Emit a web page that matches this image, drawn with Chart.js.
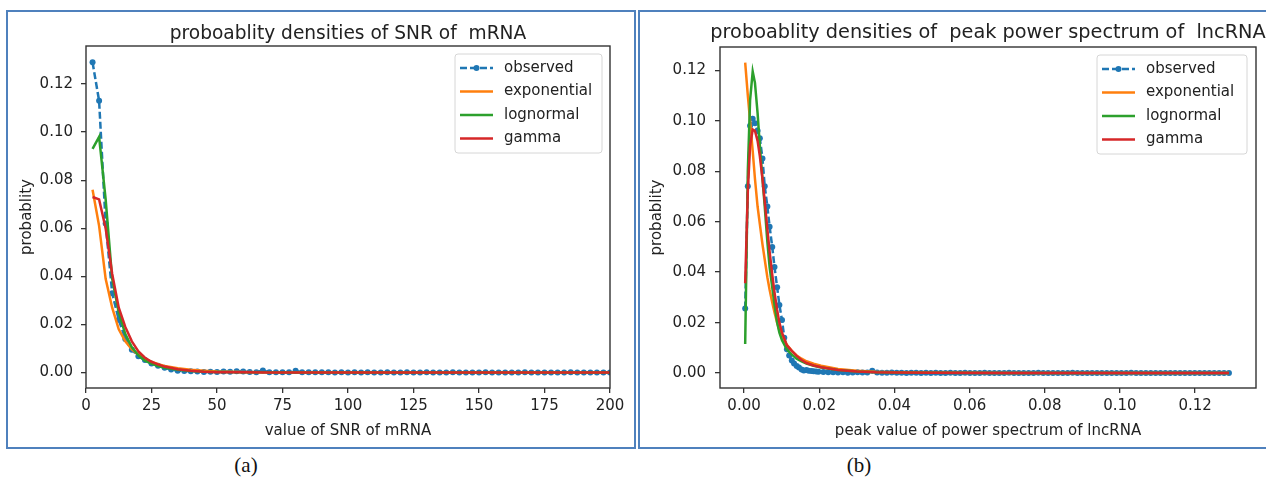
<!DOCTYPE html>
<html>
<head>
<meta charset="utf-8">
<script src="https://cdn.jsdelivr.net/npm/chart.js@4.4.0/dist/chart.umd.min.js"></script>
<style>
  body { margin: 0; width: 1266px; height: 481px; overflow: hidden; background: #fff; position: relative; }
  .box { position: absolute; border: 2px solid #4f81bd; box-sizing: border-box; }
  #boxA { left: 6px; top: 10px; width: 630px; height: 439px; }
  #boxB { left: 638px; top: 10px; width: 640px; height: 439px; }
  canvas { position: absolute; top: 12px; }
  #chartA { left: 8px; }
  #chartB { left: 640px; }
  .cap { position: absolute; top: 452px; width: 80px; text-align: center; font: 21px "Liberation Serif", serif; color: #111; line-height: 26px; }
</style>
</head>
<body>
<div class="box" id="boxA"></div>
<div class="box" id="boxB"></div>
<canvas id="chartA" width="626" height="435"></canvas>
<canvas id="chartB" width="626" height="435"></canvas>
<div class="cap" style="left:206px">(a)</div>
<div class="cap" style="left:819px">(b)</div>
<script>
// ---- (a) SNR of mRNA ----
const snrX = [2.5, 5, 7.5, 10, 12.5, 15, 17.5, 20, 22.5, 25,
  27.5, 30, 32.5, 35, 37.5, 40, 42.5, 45, 47.5, 50,
  52.5, 55, 57.5, 60, 62.5, 65, 67.5, 70, 72.5, 75,
  77.5, 80, 82.5, 85, 87.5, 90, 92.5, 95, 97.5, 100,
  102.5, 105, 107.5, 110, 112.5, 115, 117.5, 120, 122.5, 125,
  127.5, 130, 132.5, 135, 137.5, 140, 142.5, 145, 147.5, 150,
  152.5, 155, 157.5, 160, 162.5, 165, 167.5, 170, 172.5, 175,
  177.5, 180, 182.5, 185, 187.5, 190, 192.5, 195, 197.5, 200];
const snrObserved = [0.129, 0.113, 0.062, 0.033, 0.022, 0.014, 0.0095, 0.0068, 0.0052, 0.0038,
  0.0028, 0.0020, 0.0013, 0.0008, 0.0007, 0.0006, 0.0005, 0.0003, 0.0004, 0.0003,
  0.0005, 0.0004, 0.0006, 0.0005, 0.0003, 0.0002, 0.0009, 0.0002, 0.0001, 0.0002,
  0.0001, 0.0008, 0.0001, 0.0002, 0.0001, 0.0001, 0.0001, 0.0000, 0.0001, 0.0000,
  0.0001, 0.0000, 0.0001, 0.0000, 0.0000, 0.0001, 0.0000, 0.0000, 0.0001, 0.0000,
  0.0000, 0.0001, 0.0000, 0.0000, 0.0000, 0.0001, 0.0000, 0.0000, 0.0000, 0.0000,
  0.0001, 0.0000, 0.0000, 0.0000, 0.0000, 0.0000, 0.0001, 0.0000, 0.0000, 0.0000,
  0.0000, 0.0000, 0.0000, 0.0001, 0.0000, 0.0000, 0.0000, 0.0000, 0.0000, 0.0000];
const snrFitX = [2.5, 5, 7.5, 10, 12.5, 15, 17.5, 20, 22.5, 25, 27.5, 30,
  35, 40, 45, 50, 60, 70, 80, 100, 125, 150, 175, 200];
const snrExponential = [0.076, 0.061, 0.039, 0.027, 0.018, 0.013, 0.0097, 0.0074, 0.0058, 0.0045, 0.0035, 0.0028,
  0.0018, 0.0012, 0.0008, 0.0005, 0.0003, 0.0002, 0.0001, 0.0001, 0, 0, 0, 0];
const snrLognormal = [0.093, 0.098, 0.072, 0.039, 0.025, 0.016, 0.0105, 0.0072, 0.0050, 0.0037, 0.0027, 0.0020,
  0.0012, 0.0007, 0.0004, 0.0003, 0.0001, 0.0001, 0, 0, 0, 0, 0, 0];
const snrGamma = [0.073, 0.072, 0.060, 0.041, 0.027, 0.019, 0.013, 0.0088, 0.0062, 0.0045, 0.0034, 0.0025,
  0.0014, 0.0008, 0.0004, 0.0002, 0.0001, 0, 0, 0, 0, 0, 0, 0];
const snrTicks = [0, 25, 50, 75, 100, 125, 150, 175, 200];
const probTicks = [0, 0.02, 0.04, 0.06, 0.08, 0.10, 0.12];

// ---- (b) peak power spectrum of lncRNA ----
const peakX = [0.0003, 0.0010, 0.0016, 0.0023, 0.0029, 0.0036, 0.0042, 0.0049, 0.0055, 0.0062,
  0.0068, 0.0075, 0.0081, 0.0088, 0.0094, 0.0101, 0.0107, 0.0114, 0.0120, 0.0127,
  0.0133, 0.0140, 0.0146, 0.0153, 0.0159, 0.0166, 0.0172, 0.0179, 0.0185, 0.0192,
  0.0198, 0.0211, 0.0224, 0.0237, 0.0250, 0.0263, 0.0276, 0.0289, 0.0302, 0.0315,
  0.0328, 0.0341, 0.0354, 0.0367, 0.0380, 0.0393, 0.0406, 0.0419, 0.0432, 0.0445,
  0.0458, 0.0471, 0.0484, 0.0497, 0.0510, 0.0523, 0.0536, 0.0549, 0.0562, 0.0575,
  0.0588, 0.0601, 0.0614, 0.0627, 0.0640, 0.0653, 0.0666, 0.0679, 0.0692, 0.0705,
  0.0718, 0.0731, 0.0744, 0.0757, 0.0770, 0.0783, 0.0796, 0.0809, 0.0822, 0.0835,
  0.0848, 0.0861, 0.0874, 0.0887, 0.0900, 0.0913, 0.0926, 0.0939, 0.0952, 0.0965,
  0.0978, 0.0991, 0.1004, 0.1017, 0.1030, 0.1043, 0.1056, 0.1069, 0.1082, 0.1095,
  0.1108, 0.1121, 0.1134, 0.1147, 0.1160, 0.1173, 0.1186, 0.1199, 0.1212, 0.1225,
  0.1238, 0.1251, 0.1264, 0.1277, 0.1290];
const peakObserved = [0.0256, 0.074, 0.098, 0.1008, 0.099, 0.096, 0.093, 0.085, 0.074, 0.066,
  0.058, 0.050, 0.042, 0.034, 0.027, 0.021, 0.014, 0.0095, 0.0070, 0.0050,
  0.0038, 0.0028, 0.0022, 0.0014, 0.0010, 0.0012, 0.0009, 0.0008, 0.0007, 0.0006,
  0.0005, 0.0004, 0.0003, 0.0003, 0.0002, 0.0003, 0.0001, 0.0002, 0.0003, 0.0002,
  0.0002, 0.0009, 0.0002, 0.0001, 0.0001, 0.0002, 0.0001, 0.0001, 0.0000, 0.0001,
  0.0001, 0.0000, 0.0001, 0.0000, 0.0001, 0.0000, 0.0000, 0.0001, 0.0000, 0.0000,
  0.0001, 0.0000, 0.0000, 0.0000, 0.0001, 0.0000, 0.0000, 0.0000, 0.0000, 0.0001,
  0.0000, 0.0000, 0.0000, 0.0000, 0.0000, 0.0001, 0.0000, 0.0000, 0.0000, 0.0000,
  0.0000, 0.0000, 0.0001, 0.0000, 0.0000, 0.0000, 0.0000, 0.0000, 0.0000, 0.0000,
  0.0000, 0.0000, 0.0000, 0.0000, 0.0001, 0.0000, 0.0000, 0.0000, 0.0000, 0.0000,
  0.0000, 0.0000, 0.0000, 0.0000, 0.0000, 0.0000, 0.0000, 0.0000, 0.0000, 0.0000,
  0.0000, 0.0000, 0.0000, 0.0000, 0.0000];
const peakFitX = [0.0003, 0.0010, 0.0016, 0.0023, 0.0029, 0.0036, 0.0042, 0.0049, 0.0055, 0.0062,
  0.0068, 0.0075, 0.0081, 0.0088, 0.0094, 0.0101, 0.0114, 0.0127, 0.0140, 0.0153,
  0.0166, 0.0185, 0.0205, 0.0250, 0.0300, 0.0350, 0.0400, 0.0500, 0.0700, 0.0900,
  0.1100, 0.1290];
const peakExponential = [0.123, 0.110, 0.100, 0.088, 0.077, 0.066, 0.059, 0.051, 0.045, 0.038,
  0.033, 0.028, 0.024, 0.020, 0.017, 0.0148, 0.0112, 0.0088, 0.0070, 0.0057,
  0.0047, 0.0037, 0.0029, 0.0016, 0.0009, 0.0005, 0.0003, 0.0001, 0, 0,
  0, 0];
const peakLognormal = [0.0115, 0.080, 0.108, 0.1195, 0.115, 0.103, 0.090, 0.077, 0.066, 0.052,
  0.042, 0.034, 0.027, 0.020, 0.016, 0.0130, 0.0093, 0.0073, 0.0057, 0.0046,
  0.0038, 0.0029, 0.0022, 0.0012, 0.0006, 0.0003, 0.0002, 0.0001, 0, 0,
  0, 0];
const peakGamma = [0.0356, 0.072, 0.090, 0.0965, 0.096, 0.092, 0.086, 0.077, 0.068, 0.057,
  0.048, 0.039, 0.032, 0.025, 0.020, 0.0160, 0.0110, 0.0088, 0.0068, 0.0052,
  0.0040, 0.0030, 0.0023, 0.0012, 0.0006, 0.0003, 0.0002, 0.0001, 0, 0,
  0, 0];
const peakTicks = [0, 0.02, 0.04, 0.06, 0.08, 0.10, 0.12];

// matplotlib tab10 colours
const colors = { observed: '#1f77b4', exponential: '#ff7f0e', lognormal: '#2ca02c', gamma: '#d62728' };

Chart.defaults.font.family = '"DejaVu Sans", sans-serif';
Chart.defaults.font.size = 15;
Chart.defaults.color = '#222';

const pairs = (xs, ys) => xs.map((x, i) => ({ x: x, y: ys[i] }));

// frame, centred title and matplotlib-like legend
const mplDecor = {
  id: 'mplDecor',
  afterDraw(chart, args, opts) {
    const ctx = chart.ctx, a = chart.chartArea;
    ctx.save();
    ctx.strokeStyle = '#333';
    ctx.lineWidth = 1.4;
    ctx.strokeRect(a.left, a.top, a.right - a.left, a.bottom - a.top);

    ctx.fillStyle = '#222';
    ctx.font = opts.titleSize + 'px "DejaVu Sans"';
    ctx.textAlign = 'center';
    ctx.textBaseline = 'middle';
    ctx.fillText(opts.title, (a.left + a.right) / 2, opts.titleY);

    // legend box
    const w = opts.legendWidth, h = 99;
    const lx = a.right - opts.legendInset - w, ly = a.top + 8;
    ctx.beginPath();
    ctx.roundRect(lx, ly, w, h, 3);
    ctx.fillStyle = 'rgba(255,255,255,0.8)';
    ctx.fill();
    ctx.strokeStyle = '#d6d6d6';
    ctx.lineWidth = 1;
    ctx.stroke();
    ctx.font = '15px "DejaVu Sans"';
    ctx.textAlign = 'left';
    chart.data.datasets.forEach((ds, i) => {
      const cy = ly + 14 + i * 23.5;
      ctx.strokeStyle = ds.borderColor;
      ctx.lineWidth = 2.5;
      ctx.setLineDash(ds.borderDash || []);
      ctx.beginPath();
      ctx.moveTo(lx + 5, cy);
      ctx.lineTo(lx + 38, cy);
      ctx.stroke();
      ctx.setLineDash([]);
      if (ds.pointRadius > 0) {
        ctx.fillStyle = ds.borderColor;
        ctx.beginPath();
        ctx.arc(lx + 21.5, cy, 3, 0, Math.PI * 2);
        ctx.fill();
      }
      ctx.fillStyle = '#222';
      ctx.fillText(ds.label, lx + 49, cy);
    });
    ctx.restore();
  }
};

function makeDatasets(xObs, yObs, xFit, yExp, yLog, yGam) {
  return [
    { label: 'observed', data: pairs(xObs, yObs), borderColor: colors.observed, backgroundColor: colors.observed,
      borderDash: [7, 3], borderWidth: 2.5, pointRadius: 3, pointBorderWidth: 0, order: 4 },
    { label: 'exponential', data: pairs(xFit, yExp), borderColor: colors.exponential, borderWidth: 2.5, pointRadius: 0, order: 3 },
    { label: 'lognormal', data: pairs(xFit, yLog), borderColor: colors.lognormal, borderWidth: 2.5, pointRadius: 0, order: 2 },
    { label: 'gamma', data: pairs(xFit, yGam), borderColor: colors.gamma, borderWidth: 2.5, pointRadius: 0, order: 1 }
  ];
}

function makeConfig(p) {
  return {
    type: 'line',
    data: { datasets: makeDatasets(p.xObs, p.yObs, p.xFit, p.yExp, p.yLog, p.yGam) },
    plugins: [mplDecor],
    options: {
      responsive: false,
      animation: false,
      devicePixelRatio: 1,
      layout: { padding: { top: p.padTop, right: p.padRight, left: 0, bottom: 0 } },
      elements: { line: { tension: 0 } },
      plugins: {
        legend: { display: false },
        tooltip: { enabled: false },
        mplDecor: { title: p.title, titleY: p.titleY, titleSize: p.titleSize, legendWidth: p.legendWidth, legendInset: p.legendInset }
      },
      scales: {
        x: {
          type: 'linear', min: p.xMin, max: p.xMax,
          afterBuildTicks: s => { s.ticks = p.xTicks.map(v => ({ value: v })); },
          afterFit: s => { s.height = 59; },
          grid: { drawOnChartArea: false, drawTicks: true, tickLength: 5, color: '#333', lineWidth: 1.3 },
          border: { display: false },
          ticks: { padding: 4, maxRotation: 0, color: '#222', callback: p.xFormat },
          title: { display: true, text: p.xTitle, color: '#222', padding: { top: 0, bottom: 7 } }
        },
        y: {
          type: 'linear', min: p.yMin, max: p.yMax,
          afterBuildTicks: s => { s.ticks = probTicks.map(v => ({ value: v })); },
          afterFit: s => { s.width = p.yWidth; },
          grid: { drawOnChartArea: false, drawTicks: true, tickLength: 5, color: '#333', lineWidth: 1.3 },
          border: { display: false },
          ticks: { padding: p.yPad, color: '#222', callback: v => v.toFixed(2) },
          title: { display: true, text: 'probablity', color: '#222', padding: { top: p.yTitlePad, bottom: 0 } }
        }
      }
    }
  };
}

const chartA = new Chart(document.getElementById('chartA'), makeConfig({
  xObs: snrX, yObs: snrObserved, xFit: snrFitX, yExp: snrExponential, yLog: snrLognormal, yGam: snrGamma,
  xMin: 0, xMax: 200, xTicks: snrTicks, xFormat: v => String(v),
  yMin: -0.0064, yMax: 0.1358,
  title: 'proboablity densities of SNR of  mRNA', titleY: 22, titleSize: 18.6,
  xTitle: 'value of SNR of mRNA',
  padTop: 34, padRight: 24, yWidth: 78, yPad: 8, yTitlePad: 10,
  legendWidth: 147, legendInset: 8
}));

const chartB = new Chart(document.getElementById('chartB'), makeConfig({
  xObs: peakX, yObs: peakObserved, xFit: peakFitX, yExp: peakExponential, yLog: peakLognormal, yGam: peakGamma,
  xMin: -0.0064, xMax: 0.1362, xTicks: peakTicks, xFormat: v => v.toFixed(2),
  yMin: -0.0059, yMax: 0.1292,
  title: 'proboablity densities of  peak power spectrum of  lncRNA', titleY: 21, titleSize: 19.3,
  xTitle: 'peak value of power spectrum of lncRNA',
  padTop: 35, padRight: 10, yWidth: 80, yPad: 9, yTitlePad: 8,
  legendWidth: 150, legendInset: 9
}));
</script>
</body>
</html>
